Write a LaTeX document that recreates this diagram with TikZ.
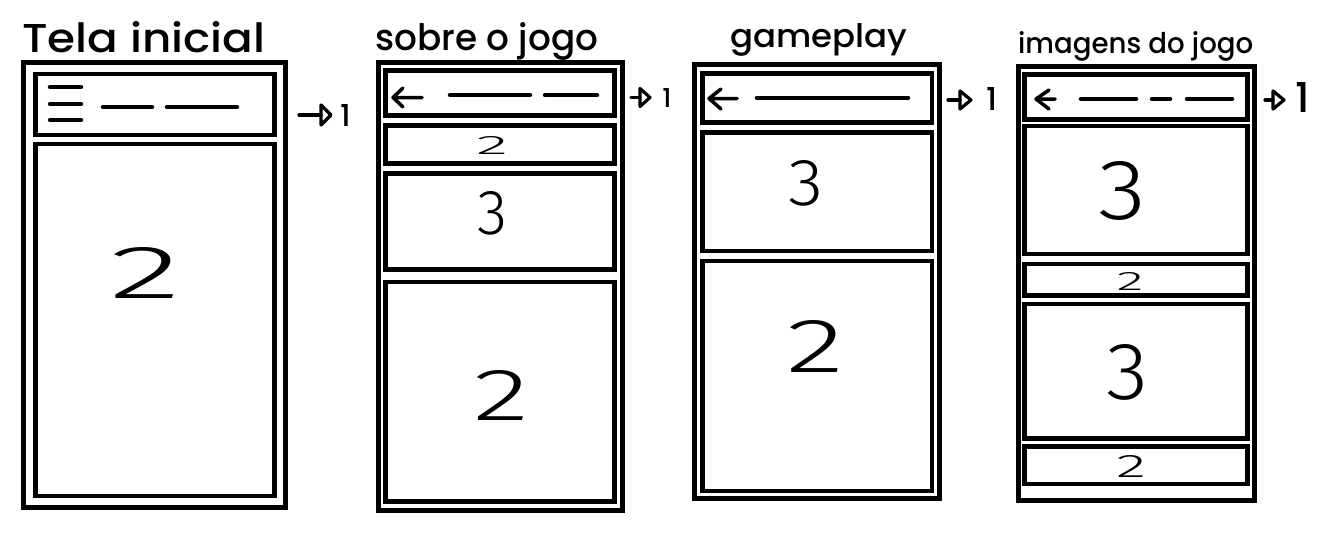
\documentclass[tikz,border=0pt]{standalone}
\usepackage{fontspec}
\usepackage{graphicx}
\IfFontExistsTF{Poppins Medium}{\newfontfamily\handfont{Poppins Medium}}{\newfontfamily\handfont{Poppins}}
\IfFontExistsTF{Fira Sans Light}{\newfontfamily\numfont{Fira Sans Light}}{\newfontfamily\numfont{Fira Sans}}
% box of a given width and height holding a text
\newcommand\fitbox[3]{\resizebox{#1}{#2}{#3}}
% rectangle node between two corners: style, name, x1, y1, x2, y2
\newcommand\screenpane[6]{%
  \node[#1,minimum width={(#5)-(#3)},minimum height={(#6)-(#4)}] (#2)
    at ({((#3)+(#5))/2},{((#4)+(#6))/2}) {};}
% link mark: stem start x, triangle base x, tip x, centre y, half height
\newcommand\linkmark[6]{%
  \coordinate (#1s) at (#2,#5);
  \coordinate (#1b) at (#3,#5);
  \draw[linkline] (#1s) -- (#1b);
  \draw[linkline] (#3,#5-#6) -- (#4,#5) -- (#3,#5+#6) -- cycle;}

\begin{document}
\begin{tikzpicture}[x=1pt,y=-1pt,
  screen/.style={draw=black,line width=5pt,rectangle,inner sep=0pt,outer sep=0pt},
  pane/.style={draw=black,line width=4.5pt,rectangle,inner sep=0pt,outer sep=0pt},
  bar/.style={line width=4.5pt,line cap=round},
  backmark/.style={line width=3.5pt,line cap=round,line join=round},
  linkline/.style={line width=3.2pt,line cap=round,line join=round},
  title/.style={inner sep=0pt,anchor=base west,font=\handfont},
  linknum/.style={inner sep=0pt,font=\handfont},
  digit/.style={inner sep=0pt,font=\numfont}]

\fill[white] (0,0) rectangle (1326,533);
\useasboundingbox (0,0) rectangle (1326,533);

% ---------- Tela inicial ----------
\node[title] (t1) at (22,52) {\fitbox{243pt}{31pt}{Tela inicial}};
\screenpane{screen}{tela}{23}{62}{285.5}{507}
\screenpane{pane}{telaHead}{35.5}{74}{274.5}{135}
\screenpane{pane}{telaBody}{35.5}{144}{274.5}{496}
\foreach \yy in {87,104,120} \draw[bar] (50,\yy) -- (81,\yy);
\draw[bar] (103,107) -- (152,107);
\draw[bar] (167,107) -- (237,107);
\node[digit] (n1) at (146,272.5) {\fitbox{72pt}{51pt}{2}};
\linkmark{l1}{299}{321}{331}{115}{10}
\node[linknum] (k1) at (346,115) {\resizebox{!}{22pt}{1}};

% ---------- sobre o jogo ----------
\node[title] (t2) at (375,50) {\fitbox{223pt}{28pt}{sobre o jogo}};
\screenpane{screen}{sobre}{378.5}{62.5}{622.5}{510}
\screenpane{pane}{sobreHead}{385.5}{70.5}{614.5}{115.5}
\screenpane{pane}{sobreA}{385.5}{125.5}{614.5}{163.5}
\screenpane{pane}{sobreB}{385.5}{173.5}{614.5}{269.5}
\screenpane{pane}{sobreC}{385.5}{282}{614.5}{501.5}
\draw[backmark] (403,88) -- (393,97.5) -- (403,107) (393,97.5) -- (422,97.5);
\draw[bar] (450,95) -- (530,95);
\draw[bar] (545,95) -- (597,95);
\node[digit] (n2) at (492,145) {\fitbox{32pt}{18pt}{2}};
\node[digit] (n3) at (492,213.5) {\fitbox{30pt}{43pt}{3}};
\node[digit] (n4) at (501,395) {\fitbox{56pt}{50pt}{2}};
\linkmark{l2}{631}{640}{650}{97.5}{9}
\node[linknum] (k2) at (667,97.5) {\resizebox{!}{19pt}{1}};

% ---------- gameplay ----------
\node[title] (t3) at (730,47) {\fitbox{177pt}{24pt}{gameplay}};
\screenpane{screen}{game}{694.5}{64.5}{939.5}{498}
\screenpane{pane}{gameHead}{702.5}{73.5}{932}{122.5}
\screenpane{pane}{gameA}{702.5}{132.5}{932}{251}
\screenpane{pane}{gameB}{702.5}{261}{932}{491}
\draw[backmark] (721,89) -- (709,98.5) -- (721,109) (709,98.5) -- (737,98.5);
\draw[bar] (757,98) -- (908,98);
\node[digit] (n5) at (806,183) {\fitbox{35pt}{45pt}{3}};
\node[digit] (n6) at (815,346) {\fitbox{58pt}{52pt}{2}};
\linkmark{l3}{948}{960}{971}{100}{9}
\node[linknum] (k3) at (992,99) {\resizebox{!}{23pt}{1}};

% ---------- imagens do jogo ----------
\node[title] (t4) at (1018,53) {\fitbox{235pt}{22pt}{imagens do jogo}};
\screenpane{screen}{imagens}{1018}{66.5}{1254}{500.5}
\screenpane{pane}{imgHead}{1024.5}{74.5}{1247.5}{119.5}
\screenpane{pane}{imgA}{1024.5}{126}{1247.5}{254}
\screenpane{pane}{imgB}{1024.5}{264}{1247.5}{295.5}
\screenpane{pane}{imgC}{1024.5}{304}{1247.5}{438.5}
\screenpane{pane}{imgD}{1024.5}{446.5}{1247.5}{484}
\draw[backmark] (1049,90) -- (1036,99) -- (1049,109) (1036,99) -- (1055,99);
\draw[bar] (1081,99) -- (1136,99);
\draw[bar] (1152,99) -- (1170,99);
\draw[bar] (1187,99) -- (1232,99);
\node[digit] (n7) at (1122,191) {\fitbox{48pt}{58pt}{3}};
\node[digit] (n8) at (1130,281) {\fitbox{27pt}{18pt}{2}};
\node[digit] (n9) at (1127,372) {\fitbox{42pt}{55pt}{3}};
\node[digit] (n10) at (1131,466) {\fitbox{30pt}{22pt}{2}};
\linkmark{l4}{1265}{1273}{1284}{100}{9}
\node[linknum] (k4) at (1303,97.5) {\resizebox{!}{30pt}{1}};
\end{tikzpicture}
\end{document}
